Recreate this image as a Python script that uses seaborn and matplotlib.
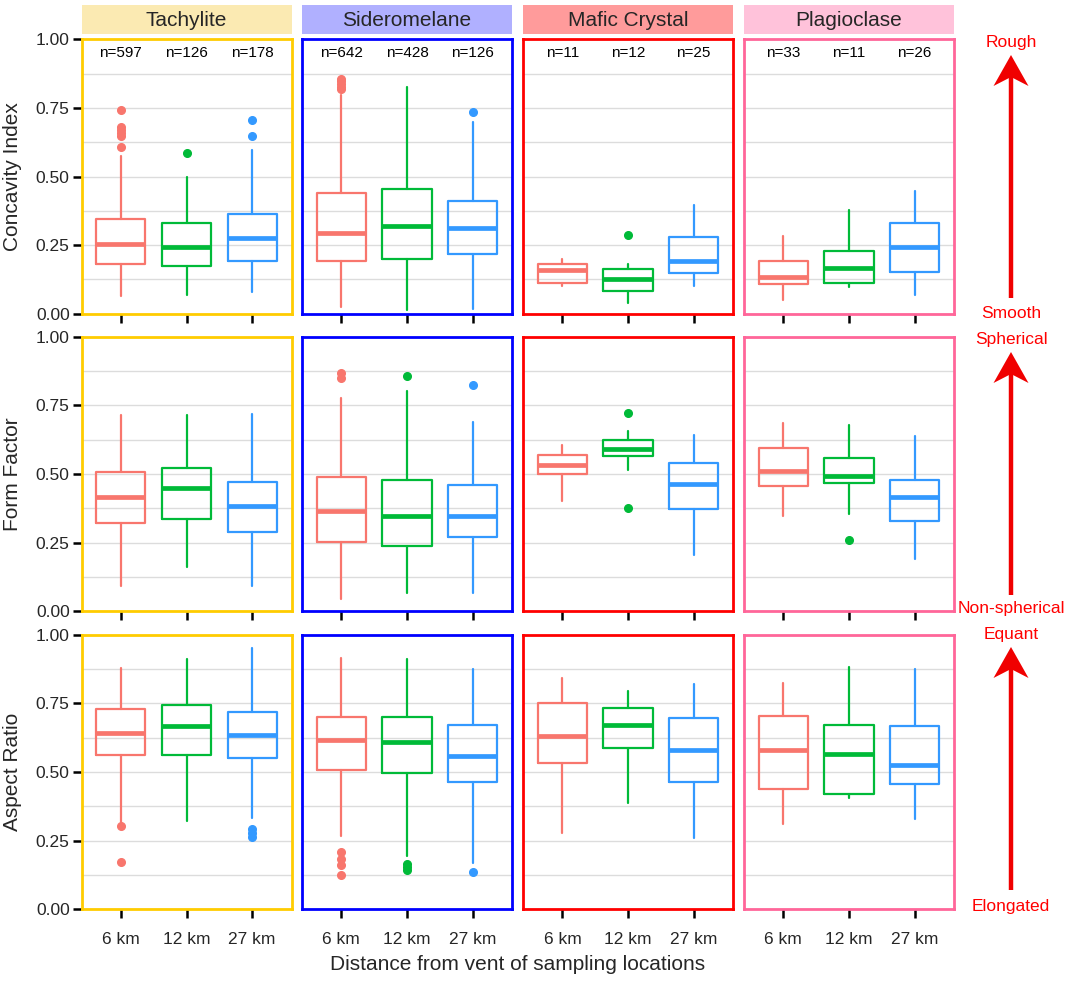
import matplotlib
matplotlib.use("Agg")
import matplotlib.pyplot as plt
import seaborn as sns
from matplotlib.patches import Polygon
from matplotlib.lines import Line2D

# categories
minerals = ["Tachylite", "Sideromelane", "Mafic Crystal", "Plagioclase"]
distances = ["6 km", "12 km", "27 km"]
metrics = ["Concavity Index", "Form Factor", "Aspect Ratio"]
counts = [[597, 126, 178], [642, 428, 126], [11, 12, 25], [33, 11, 26]]

# box summaries: one row per mineral, one value per distance
# Concavity Index
ci_low = [[0.064, 0.069, 0.080], [0.024, 0.013, 0.016], [0.101, 0.040, 0.101], [0.050, 0.096, 0.069]]
ci_q1 = [[0.182, 0.174, 0.192], [0.194, 0.200, 0.217], [0.113, 0.084, 0.149], [0.107, 0.112, 0.153]]
ci_med = [[0.255, 0.243, 0.277], [0.294, 0.321, 0.311], [0.159, 0.125, 0.192], [0.135, 0.168, 0.245]]
ci_q3 = [[0.346, 0.332, 0.365], [0.440, 0.453, 0.412], [0.183, 0.162, 0.279], [0.191, 0.228, 0.329]]
ci_high = [[0.576, 0.498, 0.597], [0.798, 0.827, 0.697], [0.198, 0.181, 0.397], [0.284, 0.378, 0.448]]
ci_out = [[[0.742, 0.680, 0.670, 0.660, 0.648, 0.609], [0.587], [0.707, 0.646]],
          [[0.857, 0.848, 0.838, 0.828, 0.818], [], [0.735]],
          [[], [0.287], []],
          [[], [], []]]

# Form Factor
ff_low = [[0.092, 0.161, 0.092], [0.044, 0.068, 0.068], [0.401, 0.516, 0.206], [0.346, 0.354, 0.191]]
ff_q1 = [[0.321, 0.337, 0.288], [0.252, 0.237, 0.271], [0.501, 0.564, 0.373], [0.455, 0.466, 0.329]]
ff_med = [[0.415, 0.447, 0.385], [0.364, 0.346, 0.347], [0.531, 0.591, 0.464], [0.510, 0.492, 0.416]]
ff_q3 = [[0.506, 0.523, 0.469], [0.489, 0.479, 0.460], [0.570, 0.623, 0.540], [0.593, 0.558, 0.478]]
ff_high = [[0.713, 0.713, 0.719], [0.776, 0.804, 0.688], [0.607, 0.655, 0.643], [0.684, 0.680, 0.638]]
ff_out = [[[], [], []],
          [[0.867, 0.849], [0.858], [0.823]],
          [[], [0.723, 0.375], []],
          [[], [0.258], []]]

# Aspect Ratio
ar_low = [[0.310, 0.322, 0.331], [0.265, 0.194, 0.170], [0.279, 0.388, 0.258], [0.309, 0.404, 0.328]]
ar_q1 = [[0.561, 0.562, 0.549], [0.506, 0.496, 0.462], [0.534, 0.589, 0.464], [0.437, 0.418, 0.455]]
ar_med = [[0.643, 0.667, 0.635], [0.615, 0.608, 0.557], [0.630, 0.670, 0.580], [0.580, 0.567, 0.524]]
ar_q3 = [[0.731, 0.743, 0.717], [0.701, 0.699, 0.670], [0.751, 0.734, 0.697], [0.703, 0.672, 0.667]]
ar_high = [[0.877, 0.911, 0.953], [0.915, 0.911, 0.875], [0.843, 0.795, 0.820], [0.825, 0.881, 0.874]]
ar_out = [[[0.302, 0.171], [], [0.292, 0.277, 0.262]],
          [[0.208, 0.183, 0.161, 0.123], [0.164, 0.152, 0.141], [0.135]],
          [[], [], []],
          [[], [], []]]

arrow_labels = [("Rough", "Smooth"), ("Spherical", "Non-spherical"), ("Equant", "Elongated")]

# colours
box_colors = sns.color_palette(["#F8766D", "#00BA38", "#3399FF"])
strip_colors = ["#FBEAB2", "#B0B0FF", "#FF9B9B", "#FFC2DA"]
border_colors = ["#FFCC00", "#0000FF", "#FF0000", "#FF6699"]

sns.set_theme(style="white")
plt.rcParams["font.family"] = ["Liberation Sans", "DejaVu Sans"]

W, H = 1065, 985
fig = plt.figure(figsize=(W / 100, H / 100), dpi=100)


def fx(px):
    return px / W


def fy(py):
    return 1 - py / H


panel_left = [81.5, 302, 523, 744]
panel_w = 210
row_top = [39.3, 336.7, 634.7]
panel_h = 274.5

all_stats = [
    (ci_low, ci_q1, ci_med, ci_q3, ci_high, ci_out),
    (ff_low, ff_q1, ff_med, ff_q3, ff_high, ff_out),
    (ar_low, ar_q1, ar_med, ar_q3, ar_high, ar_out),
]

for r in range(3):
    low, q1, med, q3, high, out = all_stats[r]
    for c in range(4):
        ax = fig.add_axes([fx(panel_left[c]), fy(row_top[r] + panel_h),
                           panel_w / W, panel_h / H])
        for i in range(3):
            col = box_colors[i]
            st = [dict(med=med[c][i], q1=q1[c][i], q3=q3[c][i],
                       whislo=low[c][i], whishi=high[c][i],
                       fliers=out[c][i], label=distances[i])]
            ax.bxp(st, positions=[i], widths=0.75, showcaps=False,
                   boxprops=dict(color=col, lw=1.6),
                   whiskerprops=dict(color=col, lw=1.6),
                   medianprops=dict(color=col, lw=3.4, solid_capstyle="butt"),
                   flierprops=dict(marker="o", markerfacecolor=col,
                                   markeredgecolor=col, markersize=5.5))
        ax.set_xlim(-0.6, 2.6)
        ax.set_ylim(0, 1)
        ax.set_xticks([0, 1, 2])
        ax.set_yticks([0, 0.25, 0.5, 0.75, 1.0])
        ax.set_yticks([0.125, 0.375, 0.625, 0.875], minor=True)
        ax.grid(True, which="both", axis="y", color="#DCDCDC", lw=1.0)
        ax.grid(False, axis="x")
        ax.set_axisbelow(True)
        for sp in ax.spines.values():
            sp.set_color(border_colors[c])
            sp.set_linewidth(2.0)
        ax.tick_params(which="major", direction="out", length=6.5, width=1.8,
                       color="black", labelsize=12.5, pad=2,
                       left=(c == 0), bottom=True)
        ax.tick_params(which="minor", length=0)
        if r == 2:
            ax.set_xticklabels(distances)
            ax.tick_params(axis="x", pad=10)
        else:
            ax.set_xticklabels([])
        if c == 0:
            ax.set_yticklabels(["0.00", "0.25", "0.50", "0.75", "1.00"])
        else:
            ax.set_yticklabels([])
        ax.set_xlabel("")
        ax.set_ylabel("")
        if r == 0:
            for i in range(3):
                ax.text(i, 0.949, f"n={counts[c][i]}", ha="center", va="center",
                        fontsize=11, color="black")
            # facet strip
            sax = fig.add_axes([fx(panel_left[c]), fy(34.3), panel_w / W, 29.6 / H])
            sax.set_facecolor(strip_colors[c])
            sax.set_xticks([])
            sax.set_yticks([])
            for sp in sax.spines.values():
                sp.set_visible(False)
            sax.text(0.5, 0.47, minerals[c], ha="center", va="center",
                     fontsize=15, transform=sax.transAxes)

    # row label
    fig.text(fx(13), fy(row_top[r] + panel_h / 2), metrics[r], rotation=90,
             ha="center", va="center", fontsize=15)

# x axis title
fig.text(fx((panel_left[0] + panel_left[3] + panel_w) / 2), fy(964),
         "Distance from vent of sampling locations", ha="center", va="center",
         fontsize=15)

# red arrows with end labels on the right
ax_x = 1011
arrow_geo = [(42, 55, 298, 313), (340, 352, 595, 608), (635, 647, 890, 907)]
for (top_lab, bot_lab), (ty, tip, base, by) in zip(arrow_labels, arrow_geo):
    fig.text(fx(ax_x), fy(ty), top_lab, color="#FF0000", ha="center",
             va="center", fontsize=12.5)
    fig.text(fx(ax_x), fy(by), bot_lab, color="#FF0000", ha="center",
             va="center", fontsize=12.5)
    fig.add_artist(Line2D([fx(ax_x), fx(ax_x)], [fy(base), fy(tip + 22)],
                          transform=fig.transFigure, color="#F00000", lw=3.2,
                          solid_capstyle="butt"))
    head = [(fx(ax_x), fy(tip)), (fx(ax_x - 17.5), fy(tip + 31)),
            (fx(ax_x), fy(tip + 22)), (fx(ax_x + 17.5), fy(tip + 31))]
    fig.add_artist(Polygon(head, closed=True, transform=fig.transFigure,
                           facecolor="#F00000", edgecolor="none"))

fig.savefig("out.png", dpi=100)
